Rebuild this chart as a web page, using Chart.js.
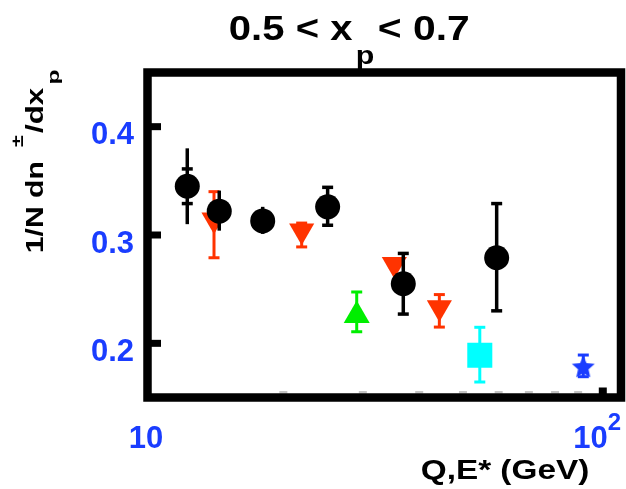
<!DOCTYPE html>
<html>
<head>
<meta charset="utf-8">
<script src="https://cdn.jsdelivr.net/npm/chart.js@4"></script>
<style>
  html, body { margin: 0; padding: 0; background: #ffffff; }
  canvas { display: block; }
</style>
</head>
<body>
<canvas id="c" width="626" height="489"></canvas>
<script>
// Charged hadron fragmentation, 0.5 < x_p < 0.7, versus scale Q,E*
const blackX    = [12.25, 14.42, 18.0, 25.07, 36.88, 59.39];
const blackY    = [0.345, 0.322, 0.313, 0.326, 0.255, 0.279];
const blackLo   = [0.310, 0.304, 0.301, 0.309, 0.227, 0.230];
const blackHi   = [0.380, 0.341, 0.326, 0.344, 0.283, 0.329];
const blackCapLo = [0.329, null, null, 0.309, 0.227, 0.230];
const blackCapHi = [0.361, null, null, 0.344, 0.283, 0.329];

const redX  = [14.04, 21.96, 35.23, 44.33];
const redY  = [0.314, 0.304, 0.273, 0.233];
const redLo = [0.279, 0.289, 0.270, 0.215];
const redHi = [0.340, 0.311, 0.277, 0.245];

const greenX  = [29.08];
const greenY  = [0.2256];
const greenLo = [0.2107];
const greenHi = [0.2474];

const cyanX  = [54.49];
const cyanY  = [0.189];
const cyanLo = [0.1643];
const cyanHi = [0.2148];

const blueX  = [92.4];
const blueY  = [0.179];
const blueLo = [0.1692];
const blueHi = [0.1892];

const yTicks = [0.2, 0.3, 0.4];
const yTickLabels = ['0.2', '0.3', '0.4'];
const xTicks = [10, 100];
const xTickBase = ['10', '10'];
const xTickExp = ['', '2'];
const xMinorTicks = [20, 30, 40, 50, 60, 70, 80, 90];

const TICK_BLUE = '#1a3dff';
const RED = '#ff3300';

function pts(xs, ys) { return xs.map((x, i) => ({ x: x, y: ys[i] })); }

function makeStar(rOuter, rInner, color) {
  const s = Math.ceil(rOuter * 2 + 2);
  const c = document.createElement('canvas');
  c.width = s; c.height = s;
  const g = c.getContext('2d');
  g.fillStyle = color;
  g.beginPath();
  for (let k = 0; k < 10; k++) {
    const r = (k % 2) ? rInner : rOuter;
    const a = -Math.PI / 2 + k * Math.PI / 5;
    g.lineTo(s / 2 + r * Math.cos(a), s / 2 + 1.5 + r * Math.sin(a));
  }
  g.closePath();
  g.fill();
  return c;
}

// place text so that its inked box spans [left, left+width]
function fitText(ctx, text, font, left, baseline, width) {
  ctx.font = font;
  ctx.textAlign = 'left';
  ctx.textBaseline = 'alphabetic';
  const m = ctx.measureText(text);
  const vis = m.actualBoundingBoxLeft + m.actualBoundingBoxRight;
  const sx = width / vis;
  ctx.save();
  ctx.translate(left, baseline);
  ctx.scale(sx, 1);
  ctx.fillText(text, m.actualBoundingBoxLeft, 0);
  ctx.restore();
}

const errorBars = {
  id: 'errorBars',
  beforeDatasetDraw(chart, args) {
    const ds = chart.data.datasets[args.index];
    if (!ds.errLo) return;
    const ctx = chart.ctx;
    const xs = chart.scales.x, ys = chart.scales.y;
    ctx.save();
    ctx.strokeStyle = ds.errColor;
    ctx.lineWidth = ds.errWidth || 3;
    ctx.lineCap = 'butt';
    ds.data.forEach((p, i) => {
      const px = xs.getPixelForValue(p.x);
      ctx.beginPath();
      ctx.moveTo(px, ys.getPixelForValue(ds.errLo[i]));
      ctx.lineTo(px, ys.getPixelForValue(ds.errHi[i]));
      ctx.stroke();
      const caps = [ds.capLo ? ds.capLo[i] : ds.errLo[i], ds.capHi ? ds.capHi[i] : ds.errHi[i]];
      caps.forEach(v => {
        if (v === null || v === undefined) return;
        const py = ys.getPixelForValue(v);
        ctx.beginPath();
        ctx.moveTo(px - 5.5, py);
        ctx.lineTo(px + 5.5, py);
        ctx.stroke();
      });
    });
    ctx.restore();
  }
};

const frameAndText = {
  id: 'frameAndText',
  afterDraw(chart) {
    const ctx = chart.ctx;
    const a = chart.chartArea;
    const xs = chart.scales.x, ys = chart.scales.y;
    ctx.save();

    // minor ticks along the bottom edge
    ctx.fillStyle = '#c4c4c4';
    xMinorTicks.forEach(v => {
      const px = xs.getPixelForValue(v);
      ctx.fillRect(px - 4, a.bottom - 6.5, 8, 2.5);
    });
    // major tick at 10^2 on the bottom edge
    ctx.fillStyle = '#000';
    ctx.fillRect(xs.getPixelForValue(100), a.bottom - 10, 8, 8);

    // y major ticks on the left edge
    yTicks.forEach(v => {
      const py = ys.getPixelForValue(v);
      ctx.fillRect(a.left, py - 3.5, 13.5, 7);
    });

    // frame
    ctx.strokeStyle = '#000';
    ctx.lineWidth = 8.5;
    ctx.lineJoin = 'miter';
    ctx.strokeRect(a.left, a.top, a.right - a.left, a.bottom - a.top);

    // y tick labels
    ctx.fillStyle = TICK_BLUE;
    ctx.font = 'bold 31px "Liberation Sans", Arial, sans-serif';
    ctx.textAlign = 'right';
    ctx.textBaseline = 'alphabetic';
    yTicks.forEach((v, i) => {
      ctx.fillText(yTickLabels[i], 134, ys.getPixelForValue(v) + 17.5);
    });

    // x tick labels with optional exponent
    xTicks.forEach((v, i) => {
      const px = xs.getPixelForValue(v);
      ctx.font = 'bold 31px "Liberation Sans", Arial, sans-serif';
      const wb = ctx.measureText(xTickBase[i]).width;
      ctx.font = 'bold 24px "Liberation Sans", Arial, sans-serif';
      const we = xTickExp[i] ? ctx.measureText(xTickExp[i]).width : 0;
      const start = px - (wb + we) / 2 - 1.5;
      ctx.textAlign = 'left';
      ctx.font = 'bold 31px "Liberation Sans", Arial, sans-serif';
      ctx.fillText(xTickBase[i], start, 448);
      if (xTickExp[i]) {
        ctx.font = 'bold 24px "Liberation Sans", Arial, sans-serif';
        ctx.fillText(xTickExp[i], start + wb, 430);
      }
    });

    // title
    ctx.fillStyle = '#000';
    const big = 'bold 35px "Liberation Sans", Arial, sans-serif';
    fitText(ctx, '0.5 < x', big, 230, 40, 123);
    fitText(ctx, 'p', 'bold 25px "Liberation Sans", Arial, sans-serif', 357, 64, 17);
    fitText(ctx, '< 0.7', big, 379, 40, 89);

    // x axis title
    fitText(ctx, 'Q,E* (GeV)', 'bold 27px "Liberation Sans", Arial, sans-serif', 422, 478.5, 166);

    // y axis title, rotated
    ctx.save();
    ctx.translate(43.3, 252);
    ctx.rotate(-Math.PI / 2);
    const yl = 'bold 24px "Liberation Sans", Arial, sans-serif';
    fitText(ctx, '1/N dn', yl, 0, 0, 90);
    fitText(ctx, '\u00b1', 'bold 16px "Liberation Sans", Arial, sans-serif', 105, -20, 12);
    fitText(ctx, '/dx', yl, 119, 0, 46);
    fitText(ctx, 'p', 'bold 17px "Liberation Sans", Arial, sans-serif', 169, 15.8, 13);
    ctx.restore();

    ctx.restore();
  }
};

new Chart(document.getElementById('c'), {
  type: 'scatter',
  data: {
    datasets: [
      {
        label: 'black', data: pts(blackX, blackY),
        pointStyle: 'circle', pointRadius: 12.5, backgroundColor: '#000', borderWidth: 0,
        errLo: blackLo, errHi: blackHi, capLo: blackCapLo, capHi: blackCapHi, errColor: '#000', errWidth: 3.5
      },
      {
        label: 'red', data: pts(redX, redY),
        pointStyle: 'triangle', rotation: 180, pointRadius: 14.5, backgroundColor: RED, borderWidth: 0,
        errLo: redLo, errHi: redHi, errColor: RED, errWidth: 3
      },
      {
        label: 'green', data: pts(greenX, greenY),
        pointStyle: 'triangle', pointRadius: 15, backgroundColor: '#00ee00', borderWidth: 0,
        errLo: greenLo, errHi: greenHi, errColor: '#00ee00', errWidth: 3
      },
      {
        label: 'cyan', data: pts(cyanX, cyanY),
        pointStyle: 'rect', pointRadius: 17.7, backgroundColor: '#00ffff', borderWidth: 0,
        errLo: cyanLo, errHi: cyanHi, errColor: '#00ffff', errWidth: 3
      },
      {
        label: 'blue', data: pts(blueX, blueY),
        pointStyle: makeStar(12, 5.5, '#1a3dff'), pointRadius: 12, backgroundColor: '#1a3dff', borderWidth: 0,
        errLo: blueLo, errHi: blueHi, errColor: '#1a3dff', errWidth: 3
      }
    ]
  },
  options: {
    responsive: false,
    animation: false,
    devicePixelRatio: 1,
    layout: { autoPadding: false, padding: { left: 147.5, top: 72.5, right: 5, bottom: 91.5 } },
    plugins: { legend: { display: false }, tooltip: { enabled: false } },
    scales: {
      x: { type: 'logarithmic', min: 10, max: 112, display: false },
      y: { type: 'linear', min: 0.15, max: 0.45, display: false }
    }
  },
  plugins: [errorBars, frameAndText]
});
</script>
</body>
</html>
